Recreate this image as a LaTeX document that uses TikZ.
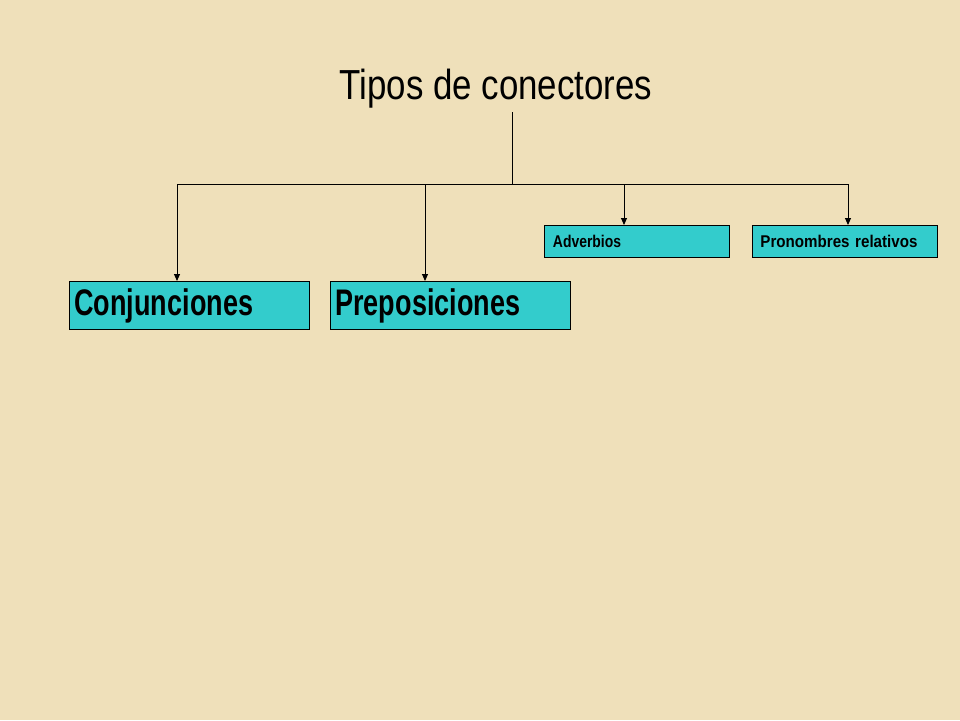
\documentclass[tikz,border=0pt]{standalone}
\usepackage{fontspec}
\setmainfont{Liberation Sans}
\newfontfamily\titlefont{Liberation Sans}[FakeStretch=0.83]
\newfontfamily\bigboxfont{Liberation Sans Bold}[FakeStretch=0.73]
\newfontfamily\smallboxfont{Liberation Sans Bold}[FakeStretch=0.82]
\newfontfamily\pronfont{Liberation Sans Bold}[FakeStretch=0.89]
\usetikzlibrary{arrows.meta}
\definecolor{bg}{HTML}{EFE0BA}
\definecolor{boxfill}{HTML}{33CCCC}
\tikzset{
  catbox/.style={draw=black, line width=0.9pt, fill=boxfill, anchor=north west,
    inner ysep=0pt, align=left},
  bigbox/.style={catbox, minimum height=48pt, text width=230pt, inner xsep=5pt,
    font=\bigboxfont\fontsize{37}{40}\selectfont},
  smallbox/.style={catbox, minimum height=32pt, text width=168pt, inner xsep=8.5pt,
    font=\smallboxfont\fontsize{17}{19}\selectfont}
  ,
  link/.style={line width=0.9pt, -{Triangle[length=7pt,width=6pt]}},
  plain/.style={line width=0.9pt}
}
\begin{document}
\begin{tikzpicture}[x=1pt,y=-1pt]
\fill[bg] (0,0) rectangle (960,720);
\useasboundingbox (0,0) rectangle (960,720);
\node[font=\titlefont\fontsize{42}{46}\selectfont, anchor=base, inner sep=0pt] (title) at (496,99) {Tipos de conectores};
\node[bigbox] (conj) at (69,281) {Conjunciones};
\node[bigbox] (prep) at (330,281) {Preposiciones};
\node[smallbox] (adv) at (544,225) {Adverbios};
\node[smallbox, font=\pronfont\fontsize{17}{19}\selectfont, inner xsep=8pt, text width=169pt] (pron) at (752,225) {Pronombres relativos};
\coordinate (top) at (512,112);
\coordinate (mid) at (512,184);
\coordinate (l) at (177,184);
\coordinate (r) at (848,184);
\draw[plain] (top) -- (mid);
\draw[plain] (l) -- (r);
\draw[link] (l) -- (l |- conj.north);
\draw[link] (425,184) -- (425,281);
\draw[link] (624,184) -- (624,225);
\draw[link] (r) -- (r |- pron.north);
\end{tikzpicture}
\end{document}
